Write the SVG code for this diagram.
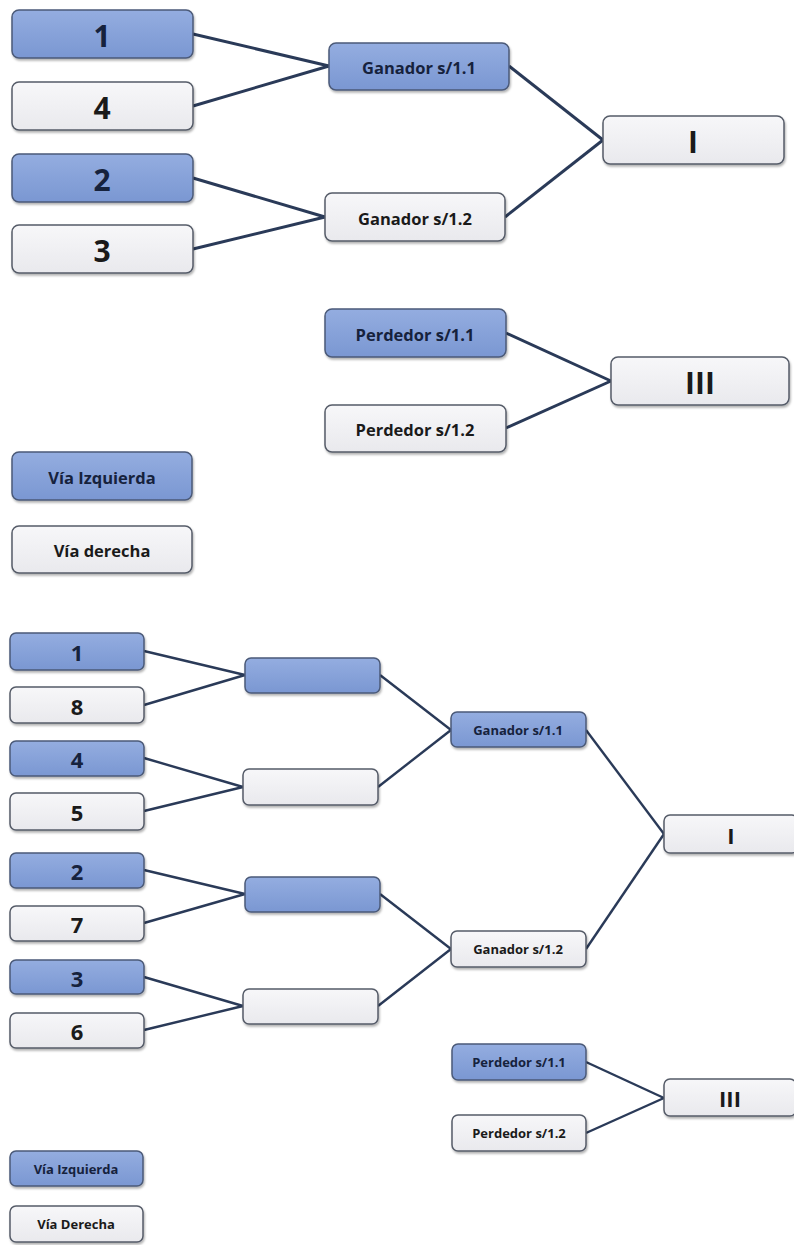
<svg xmlns="http://www.w3.org/2000/svg" width="794" height="1245" viewBox="0 0 794 1245">
<defs>
<linearGradient id="gb" x1="0" y1="0" x2="0" y2="1"><stop offset="0" stop-color="#94ade0"/><stop offset="1" stop-color="#7a97d2"/></linearGradient>
<linearGradient id="gg" x1="0" y1="0" x2="0" y2="1"><stop offset="0" stop-color="#f7f7f9"/><stop offset="1" stop-color="#e9e9ed"/></linearGradient>
<filter id="sh" x="-10%" y="-20%" width="120%" height="150%"><feDropShadow dx="1" dy="2" stdDeviation="1.2" flood-color="#000" flood-opacity="0.3"/></filter>
<style>
.b{fill:url(#gb);stroke:#4b5a78;stroke-width:1.5;filter:url(#sh)}
.g{fill:url(#gg);stroke:#555b68;stroke-width:1.5;filter:url(#sh)}
text{font-family:"Open Sans","Noto Sans","Liberation Sans",sans-serif;font-weight:bold;text-anchor:middle;dominant-baseline:central}
.tb{fill:#16223d}
.tg{fill:#1a1a1a}
.big{font-size:30px}
.mid{font-size:16.5px}
.sbig{font-size:22px}
.small{font-size:13px}
.c1{stroke:#2a3a58;stroke-width:3;fill:none}
.c2{stroke:#2a3a58;stroke-width:2.4;fill:none}
</style>
</defs>
<g id="connectors">
<line class="c1" x1="193" y1="34" x2="329" y2="66"/>
<line class="c1" x1="193" y1="106" x2="329" y2="66"/>
<line class="c1" x1="193" y1="178" x2="325" y2="217"/>
<line class="c1" x1="193" y1="249" x2="325" y2="217"/>
<line class="c1" x1="509" y1="66" x2="603" y2="140"/>
<line class="c1" x1="505" y1="217" x2="603" y2="140"/>
<line class="c1" x1="506" y1="333" x2="611" y2="381"/>
<line class="c1" x1="506" y1="428" x2="611" y2="381"/>
<line class="c2" x1="144" y1="651" x2="245" y2="675"/>
<line class="c2" x1="144" y1="705" x2="245" y2="675"/>
<line class="c2" x1="144" y1="758" x2="243" y2="787"/>
<line class="c2" x1="144" y1="811" x2="243" y2="787"/>
<line class="c2" x1="144" y1="870" x2="245" y2="894"/>
<line class="c2" x1="144" y1="923" x2="245" y2="894"/>
<line class="c2" x1="144" y1="977" x2="243" y2="1006"/>
<line class="c2" x1="144" y1="1030" x2="243" y2="1006"/>
<line class="c2" x1="380" y1="675" x2="451" y2="730"/>
<line class="c2" x1="378" y1="787" x2="451" y2="730"/>
<line class="c2" x1="380" y1="894" x2="451" y2="949"/>
<line class="c2" x1="378" y1="1006" x2="451" y2="949"/>
<line class="c2" x1="586" y1="730" x2="664" y2="834"/>
<line class="c2" x1="586" y1="949" x2="664" y2="834"/>
<line class="c2" x1="586" y1="1062" x2="664" y2="1098"/>
<line class="c2" x1="586" y1="1133" x2="664" y2="1098"/>
</g>
<g id="t1"><rect class="b" x="12" y="10" width="181" height="48" rx="7"/><text class="tb big" x="102" y="35">1</text></g>
<g id="t4"><rect class="g" x="12" y="82" width="181" height="48" rx="7"/><text class="tg big" x="102" y="107">4</text></g>
<g id="t2"><rect class="b" x="12" y="154" width="181" height="48" rx="7"/><text class="tb big" x="102" y="179">2</text></g>
<g id="t3"><rect class="g" x="12" y="225" width="181" height="48" rx="7"/><text class="tg big" x="102" y="250">3</text></g>
<g id="tg11"><rect class="b" x="329" y="43" width="180" height="47" rx="7"/><text class="tb mid" x="419" y="67">Ganador s/1.1</text></g>
<g id="tg12"><rect class="g" x="325" y="193" width="180" height="48" rx="7"/><text class="tg mid" x="415" y="218">Ganador s/1.2</text></g>
<g id="tI"><rect class="g" x="603" y="116" width="181" height="48" rx="7"/><text class="tg big" x="693" y="141">I</text></g>
<g id="tp11"><rect class="b" x="325" y="309" width="181" height="48" rx="7"/><text class="tb mid" x="415" y="334">Perdedor s/1.1</text></g>
<g id="tp12"><rect class="g" x="325" y="405" width="181" height="47" rx="7"/><text class="tg mid" x="415" y="429">Perdedor s/1.2</text></g>
<g id="tIII"><rect class="g" x="611" y="357" width="178" height="48" rx="7"/><text class="tg big" x="700" y="382">III</text></g>
<g id="tvi"><rect class="b" x="12" y="452" width="180" height="48" rx="7"/><text class="tb mid" x="102" y="477">Vía Izquierda</text></g>
<g id="tvd"><rect class="g" x="12" y="526" width="180" height="47" rx="7"/><text class="tg mid" x="102" y="550">Vía derecha</text></g>

<g id="b1"><rect class="b" x="10" y="633" width="134" height="37" rx="6"/><text class="tb sbig" x="77" y="652">1</text></g>
<g id="b8"><rect class="g" x="10" y="687" width="134" height="36" rx="6"/><text class="tg sbig" x="77" y="706">8</text></g>
<g id="b4"><rect class="b" x="10" y="741" width="134" height="35" rx="6"/><text class="tb sbig" x="77" y="759">4</text></g>
<g id="b5"><rect class="g" x="10" y="793" width="134" height="37" rx="6"/><text class="tg sbig" x="77" y="812">5</text></g>
<g id="b2"><rect class="b" x="10" y="853" width="134" height="35" rx="6"/><text class="tb sbig" x="77" y="871">2</text></g>
<g id="b7"><rect class="g" x="10" y="906" width="134" height="35" rx="6"/><text class="tg sbig" x="77" y="924">7</text></g>
<g id="b3"><rect class="b" x="10" y="960" width="134" height="34" rx="6"/><text class="tb sbig" x="77" y="978">3</text></g>
<g id="b6"><rect class="g" x="10" y="1013" width="134" height="35" rx="6"/><text class="tg sbig" x="77" y="1031">6</text></g>
<g id="e1"><rect class="b" x="245" y="658" width="135" height="35" rx="6"/></g>
<g id="e2"><rect class="g" x="243" y="769" width="135" height="36" rx="6"/></g>
<g id="e3"><rect class="b" x="245" y="877" width="135" height="35" rx="6"/></g>
<g id="e4"><rect class="g" x="243" y="989" width="135" height="35" rx="6"/></g>
<g id="bg11"><rect class="b" x="451" y="712" width="135" height="35" rx="6"/><text class="tb small" x="518" y="730">Ganador s/1.1</text></g>
<g id="bg12"><rect class="g" x="451" y="931" width="135" height="36" rx="6"/><text class="tg small" x="518" y="949">Ganador s/1.2</text></g>
<g id="bI"><rect class="g" x="664" y="815" width="134" height="38" rx="6"/><text class="tg sbig" x="731" y="835">I</text></g>
<g id="bp11"><rect class="b" x="452" y="1044" width="134" height="36" rx="6"/><text class="tb small" x="519" y="1062">Perdedor s/1.1</text></g>
<g id="bp12"><rect class="g" x="452" y="1115" width="134" height="36" rx="6"/><text class="tg small" x="519" y="1133">Perdedor s/1.2</text></g>
<g id="bIII"><rect class="g" x="664" y="1079" width="132" height="37" rx="6"/><text class="tg sbig" x="730" y="1098">III</text></g>
<g id="bvi"><rect class="b" x="10" y="1151" width="133" height="35" rx="6"/><text class="tb small" x="76" y="1169">Vía Izquierda</text></g>
<g id="bvd"><rect class="g" x="10" y="1206" width="133" height="36" rx="6"/><text class="tg small" x="76" y="1224">Vía Derecha</text></g>
</svg>
